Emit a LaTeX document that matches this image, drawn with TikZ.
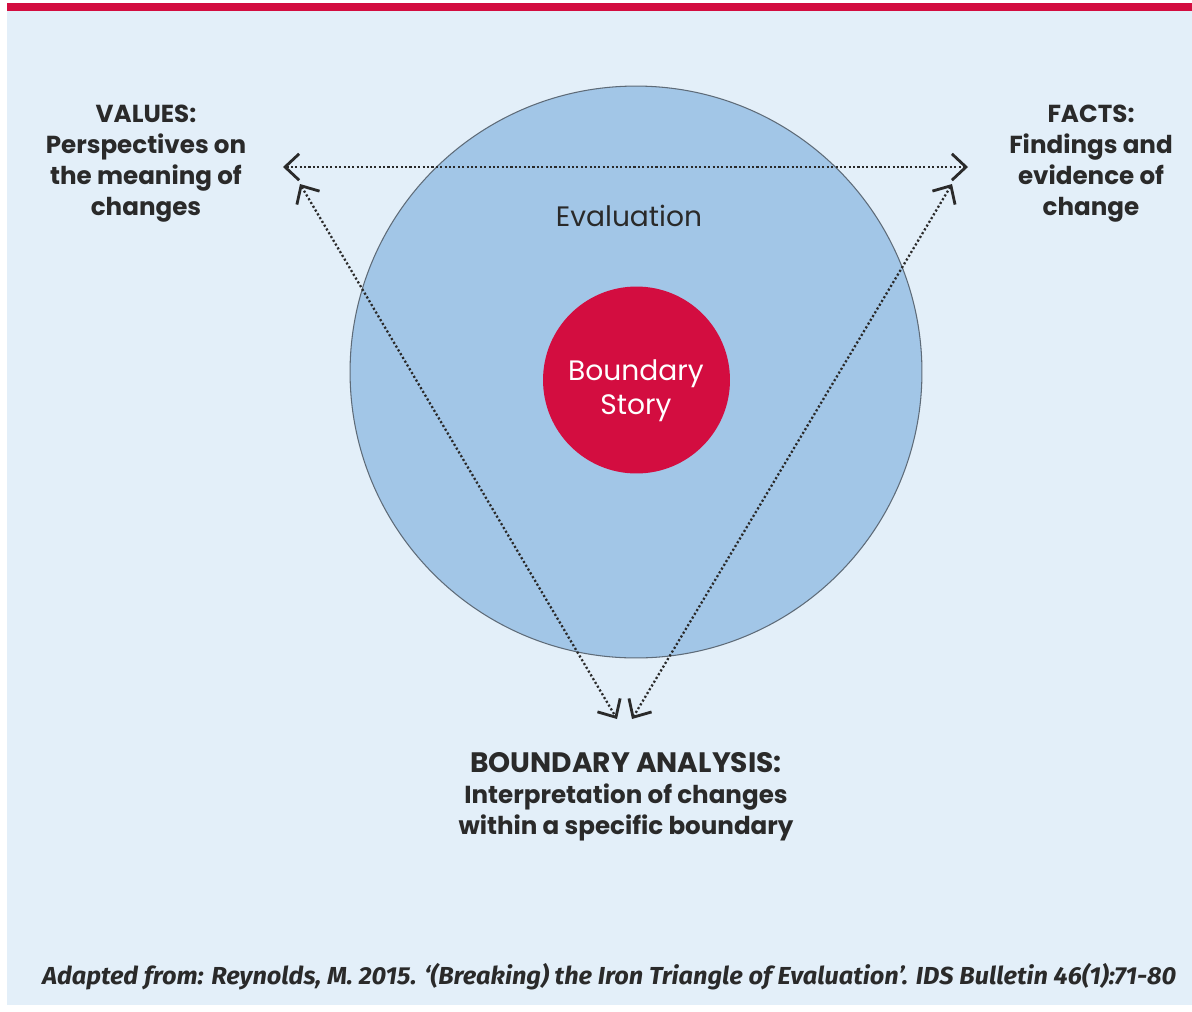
\documentclass[tikz,border=0pt]{standalone}
\usepackage{fontspec}
\setmainfont{Poppins}
\newfontfamily\citefont[FakeStretch=1.03]{Fira Sans}
\usetikzlibrary{arrows.meta}
\definecolor{panel}{HTML}{E3EFF9}
\definecolor{barred}{HTML}{D30D40}
\definecolor{circblue}{HTML}{A2C6E7}
\definecolor{circedge}{HTML}{5E6B78}
\definecolor{ink}{HTML}{2A2A2A}
\tikzset{
  label/.style={align=center, text=ink, font=\fontsize{14}{17.6}\selectfont\bfseries},
  dotarrow/.style={draw=ink, line width=1.3pt, dash pattern=on 1.2pt off 1.3pt,
     {Straight Barb[length=8pt,width=15pt,line width=1.6pt,sep=0pt]}-{Straight Barb[length=8pt,width=15pt,line width=1.6pt]}},
}
\begin{document}
\begin{tikzpicture}[x=0.02cm,y=-0.02cm]
\useasboundingbox (0,0) rectangle (1192,1011);
\fill[white] (0,0) rectangle (1192,1011);
\fill[panel] (7,11) rectangle (1192,1005);
\fill[barred] (7,3) rectangle (1192,11);
\node[circle, fill=circblue, draw=circedge, line width=0.6pt, minimum size=11.44cm, inner sep=0pt] (eval) at (636,372) {};
\node[text=ink, font=\fontsize{16}{19}\selectfont] (evaltext) at (629,216) {Evaluation};
\node[circle, fill=barred, minimum size=3.74cm, inner sep=0pt] (story) at (636.5,380) {};
\node[align=center, text=white, font=\fontsize{16}{19.3}\selectfont] (storytext) at (636,391) {Boundary\\Story};
\node[label] (values) at (146,164) {VALUES:\\Perspectives on\\the meaning of\\changes};
\node[label] (facts) at (1091,164) {FACTS:\\Findings and\\evidence of\\change};
\node[label] (boundary) at (626,797) {{\fontsize{16}{17.6}\selectfont BOUNDARY ANALYSIS:}\\Interpretation of changes\\within a specific boundary};
\coordinate (hl) at (283,167);
\coordinate (hr) at (968,167);
\coordinate (dl) at (300,184);
\coordinate (dr) at (952,184);
\coordinate (bl) at (617,719);
\coordinate (br) at (632,719);
\draw[dotarrow] (hl) -- (hr);
\draw[dotarrow] (dl) -- (bl);
\draw[dotarrow] (dr) -- (br);
\node[anchor=west, text=ink, inner sep=0pt, font=\citefont\fontsize{14}{16}\selectfont\bfseries\itshape] (cite) at (42,977)
  {Adapted from: Reynolds, M. 2015. ‘(Breaking) the Iron Triangle of Evaluation’. IDS Bulletin 46(1):71-80};
\end{tikzpicture}
\end{document}
